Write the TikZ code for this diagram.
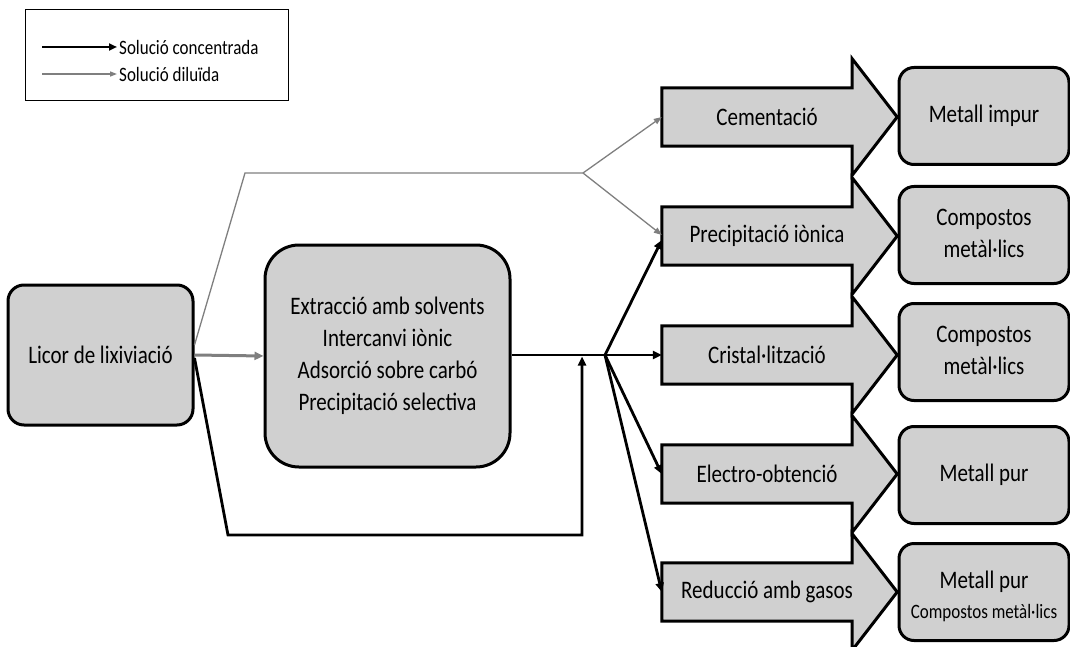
\documentclass[tikz,border=0pt]{standalone}
\usepackage{fontspec}
\setmainfont{Carlito}
\usetikzlibrary{arrows.meta,backgrounds}
\definecolor{boxfill}{RGB}{208,208,208}
\definecolor{lineg}{RGB}{127,127,127}
% text is set slightly tall and narrow
\newcommand{\tallt}[1]{\scalebox{1}[1.2]{#1}}
\newcommand{\tallml}[1]{\scalebox{1}[1.2]{\begin{tabular}{@{}c@{}}#1\end{tabular}}}
\tikzset{
  base/.style={font=\fontsize{21}{26.9}\selectfont},
  small/.style={font=\fontsize{17}{20}\selectfont},
  roundbox/.style={base, draw=black, line width=3pt, fill=boxfill,
    rounded corners=#1, align=center, inner sep=0pt},
  resultbox/.style={roundbox=15pt, minimum width=170pt, minimum height=97pt},
  shaft/.style={base, minimum width=210pt, minimum height=58pt, inner sep=0pt},
  blockarrow/.style={draw=black, line width=3pt, fill=boxfill, line join=miter},
  conc/.style={line width=2.8pt, -{Triangle[length=9pt,width=8pt]}},
  dil/.style={lineg, line width=1.3pt, -{Triangle[length=8pt,width=6pt]}},
  dilthick/.style={lineg, line width=3pt, -{Triangle[length=9pt,width=8pt]}},
  legendtext/.style={small, anchor=west, inner sep=0pt}
}
\begin{document}
\begin{tikzpicture}[x=1pt,y=-1pt]
\useasboundingbox (0,0) rectangle (1070,647);

% legend
\node[draw=black, line width=1pt, minimum width=263pt, minimum height=91pt, inner sep=0pt] (legend) at (156.5,55.5) {};
\coordinate (lc1) at (42,47);
\coordinate (lc2) at (117,47);
\coordinate (ld1) at (42,74);
\coordinate (ld2) at (117,74);
\draw[line width=2.8pt, -{Triangle[length=8pt,width=7pt]}] (lc1) -- (lc2);
\draw[lineg, line width=1.3pt, -{Triangle[length=7pt,width=5pt]}] (ld1) -- (ld2);
\node[legendtext] (lt1) at (119,47) {\tallt{Solució concentrada}};
\node[legendtext] (lt2) at (119,74) {\tallt{Solució diluïda}};

% source and separation stage
\node[roundbox=16pt, minimum width=185pt, minimum height=140pt] (lic) at (100.5,355) {\tallt{Licor de lixiviació}};
\node[roundbox=34pt, minimum width=245pt, minimum height=222pt] (mid) at (387.5,356)
  {\tallml{Extracció amb solvents\\Intercanvi iònic\\Adsorció sobre carbó\\Precipitació selectiva}};

% process arrows (text nodes; outlines drawn behind)
\node[shaft] (cem) at (767,117) {\tallt{Cementació}};
\node[shaft] (pre) at (767,236) {\tallt{Precipitació iònica}};
\node[shaft] (cri) at (767,355) {\tallt{Cristal·lització}};
\node[shaft] (ele) at (767,474) {\tallt{Electro-obtenció}};
\node[shaft] (red) at (767,592) {\tallt{Reducció amb gasos}};

\begin{scope}[on background layer]
  \foreach \n in {cem,pre,cri,ele,red}{
    \draw[blockarrow] (\n.north west) -- ([xshift=-20pt]\n.north east)
      -- ([xshift=-20pt,yshift=29pt]\n.north east) -- ([xshift=25pt]\n.east)
      -- ([xshift=-20pt,yshift=-29pt]\n.south east) -- ([xshift=-20pt]\n.south east)
      -- (\n.south west) -- cycle;
  }
\end{scope}

% products
\node[resultbox] (r1) at (984,116) {\tallt{Metall impur}};
\node[resultbox] (r2) at (984,235) {\tallml{Compostos\\metàl·lics}};
\node[resultbox] (r3) at (984,352) {\tallml{Compostos\\metàl·lics}};
\node[resultbox] (r4) at (984,475) {\tallt{Metall pur}};
\node[resultbox] (r5) at (984,592) {\raisebox{-5pt}[\height][\depth]{\tallml{Metall pur\\[-2pt]{\fontsize{17}{20}\selectfont Compostos metàl·lics}}}};

% dilute bypass
\coordinate (g1) at (245,173);
\coordinate (g2) at (583,173);
\draw[lineg, line width=1.3pt] ([yshift=10pt]lic.east) -- (g1) -- (g2);
\draw[dil] (g2) -- (cem.west);
\draw[dil] (g2) -- ([yshift=1pt]pre.west);

% feed to separation stage
\draw[dilthick] (lic.east) -- (mid.west);

% concentrated solution
\coordinate (j) at (605,355);
\draw[conc] (mid.east |- j) -- (cri.west);
\draw[conc] (j) -- ([yshift=-4pt]pre.west);
\draw[conc] (j) -- (ele.west);
\draw[conc] (j) -- (red.west);

% direct concentrated route
\coordinate (f1) at (228,535);
\coordinate (f2) at (582,535);
\coordinate (f3) at (582,356.5);
\draw[conc] ([yshift=-3pt]lic.east) -- (f1) -- (f2) -- (f3);
\end{tikzpicture}
\end{document}
